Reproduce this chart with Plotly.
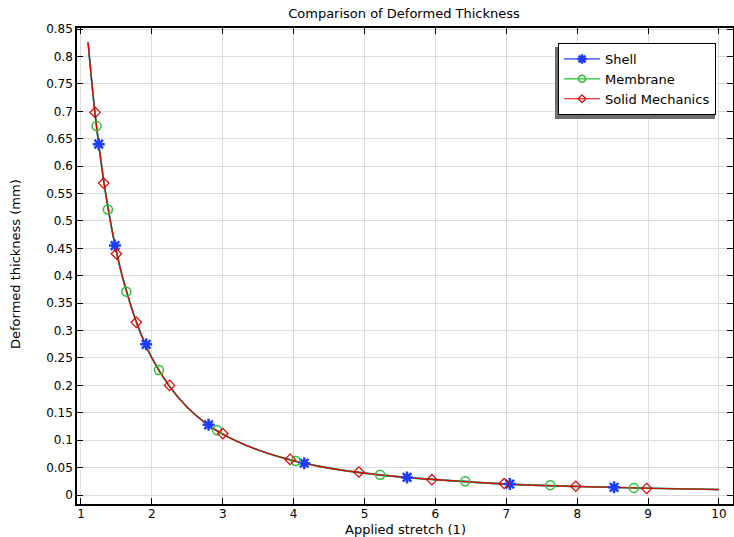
import plotly.graph_objects as go

# Curve - shared by all three formulations
stretch = [1.1, 1.2, 1.3, 1.4, 1.5, 1.6, 1.8, 2.0, 2.25, 2.5, 2.75, 3.0, 3.5, 4.0, 4.5, 5.0, 5.5, 6.0, 7.0, 8.0, 9.0, 10.0]
thick_shell = [0.826, 0.694, 0.592, 0.510, 0.444, 0.391, 0.309, 0.250, 0.198, 0.160, 0.132, 0.111, 0.082, 0.0625, 0.049, 0.040, 0.033, 0.028, 0.020, 0.0156, 0.0123, 0.010]
thick_membrane = [0.826, 0.694, 0.592, 0.510, 0.444, 0.391, 0.309, 0.250, 0.198, 0.160, 0.132, 0.111, 0.082, 0.0625, 0.049, 0.040, 0.033, 0.028, 0.020, 0.0156, 0.0123, 0.010]
thick_solid = [0.826, 0.694, 0.592, 0.510, 0.444, 0.391, 0.309, 0.250, 0.198, 0.160, 0.132, 0.111, 0.082, 0.0625, 0.049, 0.040, 0.033, 0.028, 0.020, 0.0156, 0.0123, 0.010]

# Marker positions
shell_mx = [1.25, 1.48, 1.92, 2.80, 4.15, 5.60, 7.05, 8.52]
shell_my = [0.640, 0.455, 0.275, 0.128, 0.058, 0.032, 0.020, 0.014]
memb_mx = [1.22, 1.38, 1.64, 2.10, 2.92, 4.03, 5.22, 6.42, 7.62, 8.80]
memb_my = [0.673, 0.521, 0.371, 0.228, 0.118, 0.062, 0.037, 0.025, 0.018, 0.013]
solid_mx = [1.20, 1.32, 1.50, 1.78, 2.25, 3.00, 3.95, 4.92, 5.95, 6.97, 7.98, 8.98]
solid_my = [0.698, 0.569, 0.440, 0.315, 0.200, 0.112, 0.065, 0.042, 0.028, 0.021, 0.016, 0.012]

BLUE = "rgb(30,60,255)"
GREEN = "rgb(40,190,50)"
RED = "rgb(220,0,0)"
FONT = "DejaVu Sans"

W, H = 734, 537
L, R, T, B = 77, 1, 28, 33

fig = go.Figure()

series = [
    ("Shell", thick_shell, shell_mx, shell_my, BLUE, "asterisk-open", 10, 2.5),
    ("Membrane", thick_membrane, memb_mx, memb_my, GREEN, "circle-open", 9, 1.5),
    ("Solid Mechanics", thick_solid, solid_mx, solid_my, RED, "diamond-open", 8, 1.2),
]

for name, ty, mx, my, col, sym, sz, lw in series:
    fig.add_trace(go.Scatter(x=stretch, y=ty, mode="lines",
                             line=dict(color=col, width=1.6 if name != "Solid Mechanics" else 1.2, shape="spline"),
                             showlegend=False, hoverinfo="skip"))
for name, ty, mx, my, col, sym, sz, lw in series:
    fig.add_trace(go.Scatter(x=mx, y=my, mode="markers",
                             marker=dict(symbol=sym, size=sz, color=col, line=dict(color=col, width=lw)),
                             showlegend=False, name=name))
for name, ty, mx, my, col, sym, sz, lw in series:
    fig.add_trace(go.Scatter(x=[None], y=[None], mode="lines+markers", name=name,
                             line=dict(color=col, width=1.2),
                             marker=dict(symbol=sym, size=sz - 2, color=col, line=dict(color=col, width=lw))))

def px_to_paper(x, y):
    return (x - L) / (W - L - R), 1 - (y - T) / (H - T - B)

# legend shadow (offset down-left)
sx0, sy0 = px_to_paper(555, 119)
sx1, sy1 = px_to_paper(715, 47)
fig.add_shape(type="rect", xref="paper", yref="paper", x0=sx0, x1=sx1, y0=sy0, y1=sy1,
              fillcolor="rgb(110,110,110)", line=dict(width=0), layer="above")

lx, ly = px_to_paper(558, 43)

fig.add_annotation(text="Applied stretch (1)", xref="paper", yref="paper",
                   x=px_to_paper(405, 0)[0], y=px_to_paper(0, 529)[1], xanchor="center", yanchor="middle",
                   showarrow=False, font=dict(size=13))
fig.add_annotation(text="Deformed thickness (mm)", xref="paper", yref="paper",
                   x=px_to_paper(15, 0)[0], y=px_to_paper(0, 264)[1], xanchor="center", yanchor="middle",
                   textangle=-90, showarrow=False, font=dict(size=13))

fig.update_layout(
    width=W, height=H,
    margin=dict(l=L, r=R, t=T, b=B),
    paper_bgcolor="white", plot_bgcolor="white",
    font=dict(family=FONT, size=12, color="black"),
    title=dict(text="Comparison of Deformed Thickness", x=404 / W,
               xanchor="center", y=1 - 13 / H, yanchor="middle", font=dict(size=13)),
    legend=dict(x=lx, y=ly, xanchor="left", yanchor="top", bgcolor="white",
                bordercolor="black", borderwidth=1, font=dict(size=13), tracegroupgap=0,
                itemwidth=36),
    showlegend=True,
)
fig.update_xaxes(range=[0.944, 10.198], dtick=1, tick0=0, showgrid=True, gridcolor="rgb(220,220,220)",
                 showline=True, linecolor="black", linewidth=1.5, mirror="ticks", ticks="inside",
                 ticklen=6, tickcolor="black", zeroline=False, automargin=False, ticklabelstandoff=-2)
fig.update_yaxes(range=[-0.0164, 0.852], dtick=0.05, tick0=0, showgrid=True, gridcolor="rgb(220,220,220)",
                 showline=True, linecolor="black", linewidth=1.5, mirror="ticks", ticks="inside",
                 ticklen=6, tickcolor="black", zeroline=False, automargin=False)

fig.write_html("out.html", config={"displayModeBar": False},
               post_script="document.body.style.margin='0';document.body.style.overflow='hidden';")
